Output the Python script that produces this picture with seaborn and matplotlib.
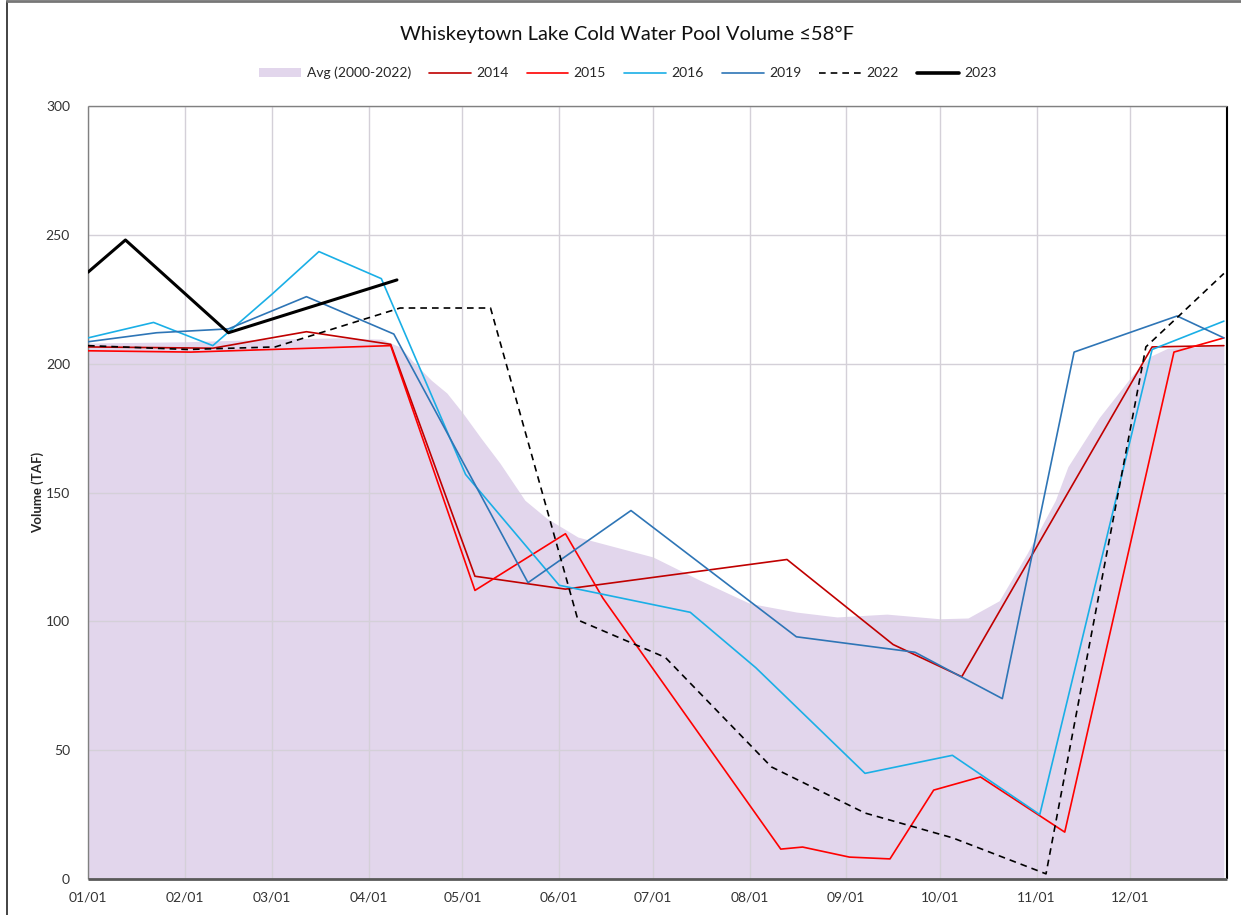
import matplotlib
matplotlib.use("Agg")
import matplotlib.pyplot as plt
import matplotlib.dates as mdates
from matplotlib.lines import Line2D
from matplotlib.patches import Patch
import pandas as pd
import seaborn as sns

YEAR = "2023"

avg_dates = ["01-01", "02-01", "03-01", "03-22", "04-05", "04-11", "04-15", "04-21",
             "04-26", "05-01", "05-07", "05-13", "05-21", "05-28", "06-07", "07-01",
             "07-16", "08-01", "08-16", "08-29", "09-14", "10-01", "10-10", "10-20",
             "10-29", "11-07", "11-11", "11-21", "12-02", "12-07", "12-13", "12-31"]
avg_vals = [208, 208.5, 209.5, 210, 209.5, 206.5, 201, 193.6,
            188.6, 181, 171, 161.4, 147, 140, 132.7, 125,
            116, 107, 103.6, 101.7, 102.8, 101, 101.3, 108,
            126.5, 147, 160, 179, 196, 202.6, 206, 207]

d2014 = ["01-01", "02-10", "03-12", "04-08", "05-05", "06-03", "08-13", "09-16",
         "10-08", "12-08", "12-31"]
v2014 = [206.5, 206, 212.4, 207.5, 117.5, 112.5, 124, 91, 78.5, 206.5, 207]

d2015 = ["01-01", "02-03", "04-08", "05-05", "06-03", "06-15", "08-11", "08-18",
         "09-02", "09-15", "09-29", "10-14", "11-10", "12-15", "12-31"]
v2015 = [205, 204.5, 207, 112, 134, 109, 11.6, 12.4, 8.5, 7.8, 34.5, 39.6, 18.2, 204.5, 210]

d2016 = ["01-01", "01-22", "02-10", "03-01", "03-16", "04-05", "05-02", "06-01",
         "07-13", "08-03", "09-07", "10-05", "11-02", "12-08", "12-31"]
v2016 = [210, 216, 207, 227, 243.5, 233, 157, 114, 103.5, 82, 41, 48, 25, 205.5, 216.5]

d2019 = ["01-01", "01-23", "02-15", "03-12", "04-09", "05-22", "06-24", "08-16",
         "09-23", "10-21", "11-13", "12-16", "12-31"]
v2019 = [208.5, 212, 213.5, 226, 211.5, 115, 143, 94, 88, 70, 204.5, 218.5, 210]

d2022 = ["01-01", "02-02", "03-02", "04-11", "05-10", "06-07", "07-05", "08-08",
         "09-07", "10-05", "11-04", "12-06", "12-17", "12-31"]
v2022 = [207, 205.5, 206.5, 221.6, 221.6, 100.5, 86, 43.5, 25.6, 16, 2, 206.5, 219, 235]

d2023 = ["01-01", "01-13", "02-15", "04-10"]
v2023 = [235.5, 248, 212, 232.5]


def to_dates(days):
    return pd.to_datetime([f"{YEAR}-{d}" for d in days])


def main():
    sns.set_style("white")
    plt.rcParams["font.family"] = ["Lato", "DejaVu Sans"]

    fig = plt.figure(figsize=(12.41, 9.15), dpi=100)
    ax = fig.add_axes([88 / 1241, 1 - 879 / 915, (1227 - 88) / 1241, (879 - 106) / 915])

    # average band
    ax.fill_between(to_dates(avg_dates), avg_vals, 0, color="#E2D6EC", linewidth=0, zorder=1)

    series = [
        ("2014", d2014, v2014, "#C00000", 1.2, "-"),
        ("2015", d2015, v2015, "#FF0000", 1.2, "-"),
        ("2016", d2016, v2016, "#1AAFE6", 1.2, "-"),
        ("2019", d2019, v2019, "#2E75B6", 1.2, "-"),
        ("2022", d2022, v2022, "#000000", 1.2, (0, (4, 3))),
        ("2023", d2023, v2023, "#000000", 2.2, "-"),
    ]
    for name, d, v, c, lw, ls in series:
        df = pd.DataFrame({"date": to_dates(d), "vol": v})
        sns.lineplot(data=df, x="date", y="vol", ax=ax, color=c, linewidth=lw,
                     linestyle=ls, zorder=3)

    ax.set_xlim(pd.Timestamp(f"{YEAR}-01-01"), pd.Timestamp("2024-01-01"))
    ax.set_ylim(0, 300)
    ax.set_yticks(range(0, 301, 50))
    ax.set_xticks(pd.date_range(f"{YEAR}-01-01", periods=12, freq="MS"))
    ax.xaxis.set_major_formatter(mdates.DateFormatter("%m/%d"))

    ax.set_axisbelow("line")
    ax.grid(True, color="#D4D0D8", linewidth=1)
    ax.tick_params(length=0, labelsize=10, labelcolor="#333333")
    ax.tick_params(axis="x", pad=9)
    ax.tick_params(axis="y", pad=13)
    ax.set_xlabel("")
    ax.set_ylabel("Volume (TAF)", fontsize=9.5, fontweight="bold", labelpad=1)

    for side, col, lw in [("top", "#808080", 1), ("left", "#808080", 1),
                          ("bottom", "#595959", 2), ("right", "#000000", 1.5)]:
        ax.spines[side].set_visible(True)
        ax.spines[side].set_color(col)
        ax.spines[side].set_linewidth(lw)
        ax.spines[side].set_capstyle("butt")

    fig.text(0.505, 0.962, "Whiskeytown Lake Cold Water Pool Volume \u226458\u00b0F",
             ha="center", va="center", fontsize=14.5, color="#111111")

    handles = [Patch(facecolor="#E2D6EC", edgecolor="none", label="Avg (2000-2022)")]
    for name, d, v, c, lw, ls in series:
        handles.append(Line2D([], [], color=c, linewidth=lw if name != "2023" else 2.6,
                              linestyle=ls, label=name))
    fig.legend(handles=handles, loc="center", bbox_to_anchor=(0.506, 0.92), ncol=7,
               frameon=False, fontsize=10, handlelength=3.0, columnspacing=1.3,
               handletextpad=0.4)

    # outer chart border (left and top edges visible)
    fig.add_artist(Line2D([7 / 1241, 7 / 1241], [0, 1 - 1 / 915], color="#222222",
                          linewidth=1.2, transform=fig.transFigure))
    fig.add_artist(Line2D([7 / 1241, 1], [1 - 1 / 915, 1 - 1 / 915], color="#777777",
                          linewidth=2, transform=fig.transFigure))

    fig.savefig("out.png", dpi=100)


if __name__ == "__main__":
    main()
